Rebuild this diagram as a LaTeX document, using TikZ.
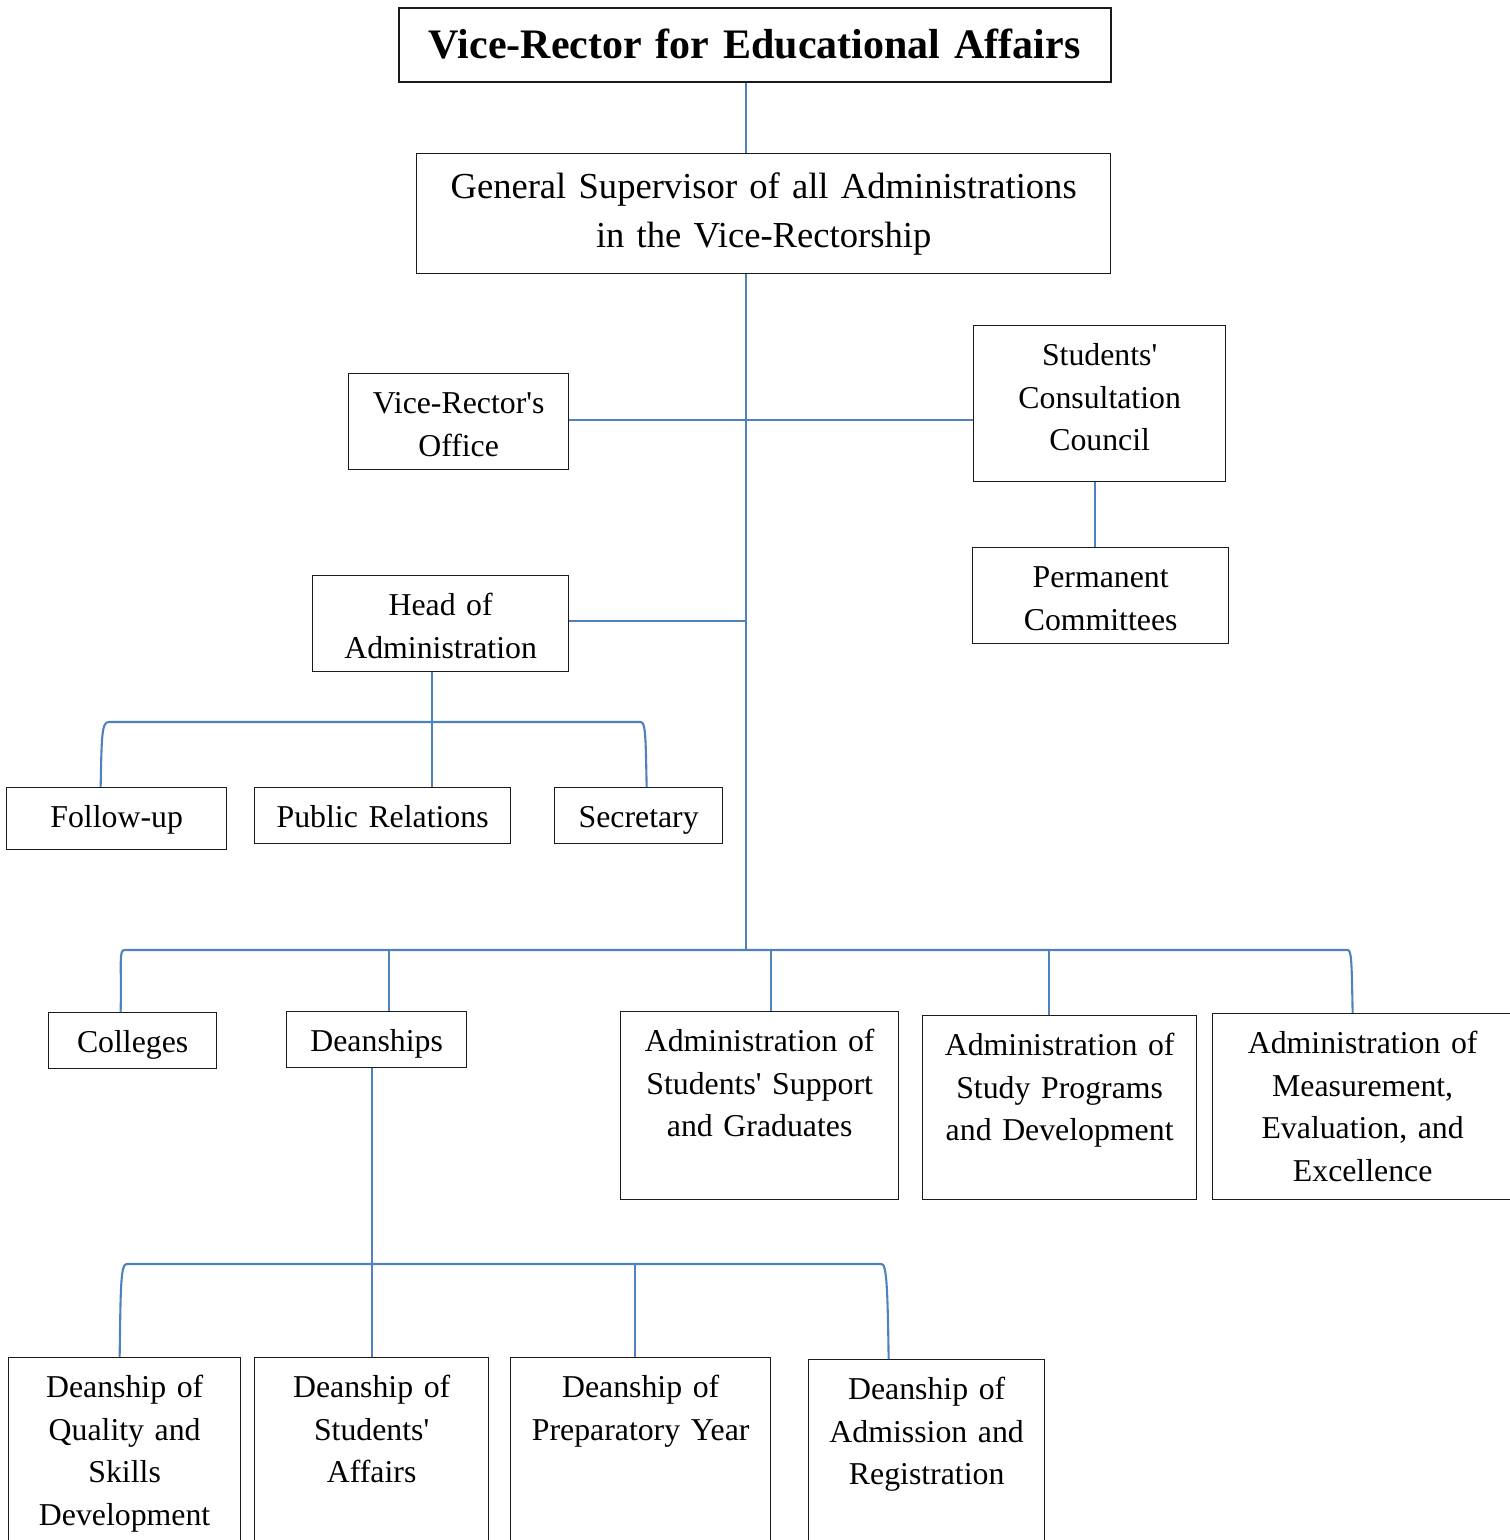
\documentclass[tikz,border=0pt]{standalone}
\usepackage{fontspec}
\setmainfont{Liberation Serif}
\usepackage{tikz}
\usetikzlibrary{calc}
\definecolor{cblue}{HTML}{4F81BD}
\definecolor{cline}{HTML}{1A1A1A}
\newcommand{\q}{\textquotesingle}
\tikzset{
  x=1pt, y=-1pt,
  unit/.style={
    draw=cline, line width=1.3pt, inner sep=0pt, align=center,
    anchor=north west, text height=40pt,
    font=\fontsize{31.8}{42.6}\selectfont
  },
  conn/.style={draw=cblue, line width=2.1pt}
}

\begin{document}
\begin{tikzpicture}
  \useasboundingbox (0,0) rectangle (1510,1540);
  % top of the chart
  \node[unit, line width=1.5pt, text width=712pt, text height=51pt, text depth=23pt,
    font=\fontsize{42}{50}\selectfont\bfseries] (vr) at (398,7)
    {Vice-Rector for Educational Affairs};
  \node[unit, text width=694pt, text height=45pt, text depth=75pt,
    font=\fontsize{36.6}{49}\selectfont] (gs) at (416,153)
    {General Supervisor of all Administrations\\in the Vice-Rectorship};
  \node[unit, text width=220pt, text depth=56pt] (office) at (348,373) {Vice-Rector\q s\\Office};
  \node[unit, text width=252pt, text depth=116pt] (council) at (973,325) {Students\q\\Consultation\\Council};
  \node[unit, text width=256pt, text depth=56pt] (perm) at (972,547) {Permanent\\Committees};
  \node[unit, text width=256pt, text depth=56pt] (head) at (312,575) {Head of\\Administration};
  % under the head of administration
  \node[unit, text width=220pt, text depth=22pt] (follow) at (6,787) {Follow-up};
  \node[unit, text width=256pt, text depth=16pt] (pubrel) at (254,787) {Public Relations};
  \node[unit, text width=168pt, text depth=16pt] (secr) at (554,787) {Secretary};
  % second level
  \node[unit, text width=168pt, text depth=16pt] (coll) at (48,1012) {Colleges};
  \node[unit, text width=180pt, text depth=16pt] (deans) at (286,1011) {Deanships};
  \node[unit, text width=278pt, text depth=148pt] (support) at (620,1011)
    {Administration of\\Students\q\ Support\\and Graduates};
  \node[unit, text width=274pt, text depth=144pt] (study) at (922,1015)
    {Administration of\\Study Programs\\and Development};
  \node[unit, text width=300pt, text depth=146pt] (measure) at (1212,1013)
    {Administration of\\Measurement,\\Evaluation, and\\Excellence};
  % deanships
  \node[unit, text width=232pt, text depth=180pt] (quality) at (8,1357)
    {Deanship of\\Quality and\\Skills\\Development};
  \node[unit, text width=234pt, text depth=180pt] (saff) at (254,1357)
    {Deanship of\\Students\q\\Affairs};
  \node[unit, text width=260pt, text depth=180pt] (prep) at (510,1357)
    {Deanship of\\Preparatory Year};
  \node[unit, text width=236pt, text depth=180pt] (admis) at (808,1359)
    {Deanship of\\Admission and\\Registration};

  % junction points
  \coordinate (trunk) at (746,950);
  \coordinate (hbar) at (432,722);
  \coordinate (dbar) at (372,1264);
  \coordinate (fu) at ([xshift=-16pt]follow.north);
  \coordinate (se) at ([xshift=8pt]secr.north);
  \coordinate (co) at ([xshift=-12pt]coll.north);
  \coordinate (me) at ([xshift=-10pt]measure.north);
  \coordinate (qu) at ([xshift=-5pt]quality.north);
  \coordinate (ad) at ([xshift=-38pt]admis.north);

  % connectors
  \draw[conn] (vr.south -| trunk) -- (gs.north -| trunk);
  \draw[conn] (gs.south -| trunk) -- (trunk);
  \draw[conn] ([yshift=2pt]office.east) -- ([yshift=2pt]office.east -| council.west);
  \draw[conn] ([xshift=-5pt]council.south) -- ([xshift=-5pt]council.south |- perm.north);
  \draw[conn] ([yshift=3pt]head.east) -- ([yshift=3pt]head.east -| trunk);
  \draw[conn] (head.south -| hbar) -- (pubrel.north -| hbar);
  \draw[conn] (fu) .. controls +(1,-50) and +(-7,0) .. ([xshift=8pt]fu |- hbar)
    -- ([xshift=-6pt]se |- hbar) .. controls +(5,0) and +(-1,-50) .. (se);
  \draw[conn] (co) .. controls +(1,-50) and +(-6,0) .. ([xshift=4pt]co |- trunk)
    -- ([xshift=-5pt]me |- trunk) .. controls +(4,0) and +(-1,-50) .. (me);
  \draw[conn] ([xshift=12pt]deans.north) -- ([xshift=12pt]deans.north |- trunk);
  \draw[conn] ([xshift=11pt]support.north) -- ([xshift=11pt]support.north |- trunk);
  \draw[conn] ([xshift=-11pt]study.north) -- ([xshift=-11pt]study.north |- trunk);
  \draw[conn] (deans.south -| dbar) -- (saff.north -| dbar);
  \draw[conn] (qu) .. controls +(1,-70) and +(-6,0) .. ([xshift=7pt]qu |- dbar)
    -- ([xshift=-7pt]ad |- dbar) .. controls +(5,0) and +(-1,-70) .. (ad);
  \draw[conn] ([xshift=-6pt]prep.north) -- ([xshift=-6pt]prep.north |- dbar);
\end{tikzpicture}
\end{document}
